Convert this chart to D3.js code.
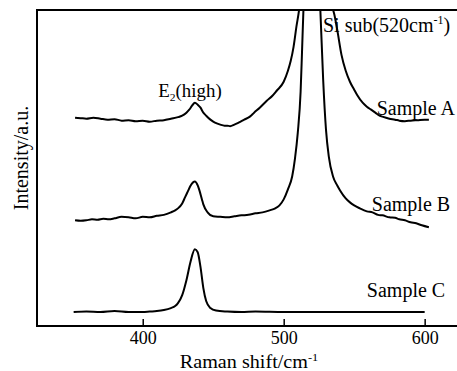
<!DOCTYPE html>
<html>
<head>
<meta charset="utf-8">
<script src="https://cdn.jsdelivr.net/npm/d3@7"></script>
<style>
  body { margin: 0; background: #fff; }
  text { font-family: "Liberation Serif", "Times New Roman", serif; fill: #000; }
</style>
</head>
<body>
<div id="container"></div>
<script>
// Raman shift (cm-1) and intensity (a.u.)
const sampleA = [
  [352, 209], [356, 208.5], [360, 208], [365, 209], [370, 208], [375, 207], [380, 207.5],
  [385, 206], [390, 206.5], [395, 205.5], [400, 206], [405, 205], [410, 206], [415, 206.5],
  [420, 208], [425, 209.5], [428, 211], [431, 214], [433, 217], [435, 221], [437, 224],
  [439, 222], [441, 219], [443, 214], [445, 211], [448, 207], [450, 205], [453, 203],
  [455, 202], [458, 201], [460, 201], [462, 200.5], [465, 202], [468, 204], [472, 207],
  [476, 210], [479, 214], [483, 219], [488, 226], [492, 231], [495, 236], [500, 245],
  [503, 256], [505, 266], [507, 280], [509, 300], [511, 318], [513, 345],
  [520, 600], [533, 345], [535, 318], [536, 312], [538, 297], [541, 272], [544, 256],
  [547, 245], [550, 237], [552, 232], [556, 224], [559, 220], [562, 217], [565, 214],
  [568, 211], [570, 210], [575, 208], [579, 207], [582, 206], [586, 205.5], [590, 206],
  [595, 206.5], [600, 207], [603, 207]
];
const sampleB = [
  [352, 106], [356, 105.5], [360, 106], [364, 107], [368, 106.5], [372, 107.5], [376, 107],
  [380, 108], [385, 109.5], [390, 109], [395, 108], [400, 109.5], [405, 109], [410, 110.5],
  [415, 111.5], [420, 114], [423, 116], [425, 118], [428, 123], [430, 129], [432, 135],
  [434, 141], [437, 145], [439, 141], [440, 137], [442, 127], [443, 122], [446, 114],
  [450, 110], [455, 109.5], [460, 109], [465, 110], [470, 111], [475, 111.5], [480, 113],
  [485, 114], [490, 116], [494, 118], [497, 121], [500, 127], [503, 137], [506, 150],
  [508, 168], [510, 194], [512, 235], [513, 275], [514, 317], [515, 347],
  [520, 700], [525, 347], [526, 317], [528, 247], [530, 197], [532, 170], [535, 150],
  [538, 141], [540, 136], [544, 128], [547, 124], [550, 121], [554, 118], [559, 115],
  [563, 114], [567, 111.5], [570, 111], [575, 109], [579, 108.5], [582, 107], [586, 106],
  [590, 104], [594, 103], [598, 101], [603, 99]
];
const sampleC = [
  [351, 14], [360, 14.5], [370, 14], [380, 15], [390, 14], [400, 14], [405, 14.5],
  [410, 15], [415, 16], [420, 18], [423, 20], [425, 23], [428, 31], [431, 46], [434, 65],
  [437, 77], [439, 74], [441, 59], [443, 38], [445, 25], [448, 18], [452, 15.5],
  [460, 14.5], [470, 14], [480, 14.5], [500, 14], [520, 14], [550, 14], [575, 14],
  [600, 14]
];
const xTicks = [400, 500, 600];
const sampleLabels = [
  { text: "Sample A", x: 566, y: 212 },
  { text: "Sample B", x: 562.5, y: 115 },
  { text: "Sample C", x: 559, y: 29 }
];

const W = 457, H = 371;
const margin = { top: 10, left: 37, bottom: 45 };
const plotRight = 474;

const svg = d3.select("#container").append("svg")
  .attr("width", W)
  .attr("height", H);

const x = d3.scaleLinear().domain([325, 635]).range([margin.left, plotRight]);
const y = d3.scaleLinear().domain([0, 317]).range([H - margin.bottom, margin.top]);

svg.append("clipPath").attr("id", "clip")
  .append("rect")
  .attr("x", margin.left).attr("y", margin.top)
  .attr("width", plotRight - margin.left)
  .attr("height", H - margin.bottom - margin.top);

const line = d3.line()
  .x(d => x(d[0]))
  .y(d => y(d[1]))
  .curve(d3.curveMonotoneX);

svg.append("g").attr("clip-path", "url(#clip)")
  .selectAll("path")
  .data([sampleA, sampleB, sampleC])
  .enter().append("path")
  .attr("d", line)
  .attr("fill", "none")
  .attr("stroke", "#000")
  .attr("stroke-width", 2)
  .attr("stroke-linejoin", "round");

// frame: left, top, bottom (right side runs off the picture)
svg.append("rect")
  .attr("x", margin.left).attr("y", margin.top)
  .attr("width", plotRight - margin.left)
  .attr("height", H - margin.bottom - margin.top)
  .attr("fill", "none")
  .attr("stroke", "#000")
  .attr("stroke-width", 2);

const xAxis = svg.append("g")
  .attr("transform", `translate(0,${H - margin.bottom})`)
  .call(d3.axisBottom(x).tickValues(xTicks).tickSizeInner(-7).tickSizeOuter(0).tickPadding(5));
xAxis.select(".domain").remove();
xAxis.selectAll(".tick line").attr("stroke", "#000").attr("stroke-width", 1.5);
xAxis.selectAll(".tick text")
  .style("font-family", "Liberation Serif, serif")
  .style("font-size", "18px");

svg.append("text")
  .attr("transform", "translate(249,368) scale(1.12,1)")
  .attr("text-anchor", "middle")
  .style("font-size", "18px")
  .html('Raman shift/cm<tspan dy="-7" font-size="11">-1</tspan>');

svg.append("text")
  .attr("transform", "translate(28,158) rotate(-90)")
  .attr("text-anchor", "middle")
  .style("font-size", "20px")
  .text("Intensity/a.u.");

svg.append("text")
  .attr("transform", "translate(190,97) scale(1.05,1)")
  .attr("text-anchor", "middle")
  .style("font-size", "18px")
  .html('E<tspan dy="4" font-size="11">2</tspan><tspan dy="-4">(high)</tspan>');

svg.append("text")
  .attr("x", 323).attr("y", 32)
  .style("font-size", "20px")
  .html('Si sub(520cm<tspan dy="-8" font-size="12">-1</tspan><tspan dy="8">)</tspan>');

svg.selectAll(".sample-label")
  .data(sampleLabels)
  .enter().append("text")
  .attr("class", "sample-label")
  .attr("x", d => x(d.x))
  .attr("y", d => y(d.y))
  .style("font-size", "20px")
  .text(d => d.text);
</script>
</body>
</html>
